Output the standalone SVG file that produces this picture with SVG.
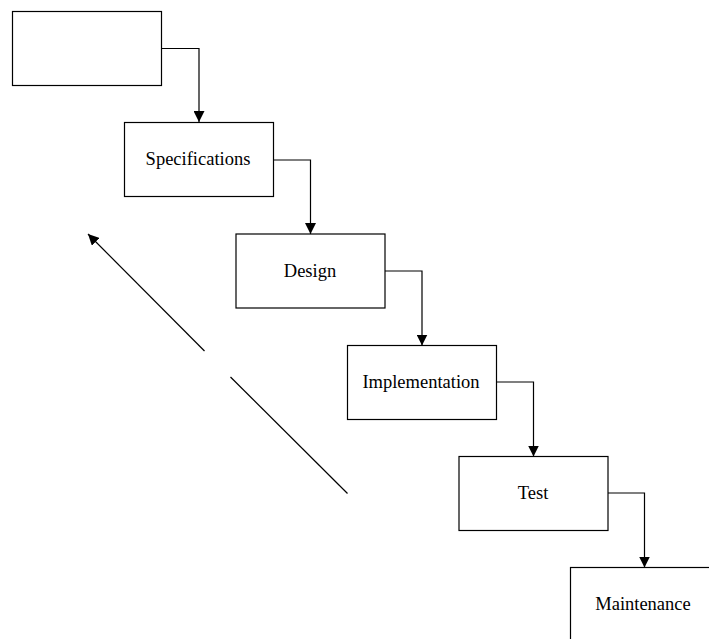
<svg xmlns="http://www.w3.org/2000/svg" width="709" height="639" viewBox="0 0 709 639">
<style>
.box{fill:#fff;stroke:#000;stroke-width:1.2}
.lbl{font-family:"Liberation Serif","Times New Roman",serif;font-size:18.5px;fill:#000;text-anchor:middle}
.con{fill:none;stroke:#000;stroke-width:1.2}
</style>
<defs>
<marker id="ah" viewBox="0 0 11 11" refX="11" refY="5.5" markerWidth="11" markerHeight="11" markerUnits="userSpaceOnUse" orient="auto">
<path d="M0,0 L11,5.5 L0,11 Z" fill="#000"/>
</marker>
</defs>
<rect width="709" height="639" fill="#fff"/>
<g id="n1"><rect class="box" x="12.5" y="11.5" width="149" height="74"/></g>
<g id="n2"><rect class="box" x="124.5" y="122.5" width="149" height="74"/><text class="lbl" x="198" y="165">Specifications</text></g>
<g id="n3"><rect class="box" x="236" y="234" width="149" height="74"/><text class="lbl" x="310" y="277">Design</text></g>
<g id="n4"><rect class="box" x="347.5" y="345.5" width="149" height="74"/><text class="lbl" x="421" y="388">Implementation</text></g>
<g id="n5"><rect class="box" x="459" y="456.5" width="149" height="74"/><text class="lbl" x="533" y="499">Test</text></g>
<g id="n6"><rect class="box" x="570.5" y="567.5" width="149" height="80"/><text class="lbl" x="643" y="610">Maintenance</text></g>
<g id="connectors">
<path class="con" d="M161.5,48.5 H199 V122" marker-end="url(#ah)"/>
<path class="con" d="M273.5,160 H310.5 V234" marker-end="url(#ah)"/>
<path class="con" d="M385,271 H422 V345.5" marker-end="url(#ah)"/>
<path class="con" d="M496.5,382 H533.5 V456.5" marker-end="url(#ah)"/>
<path class="con" d="M608,493 H644.5 V567.5" marker-end="url(#ah)"/>
<path class="con" d="M204.5,351 L88,234" marker-end="url(#ah)"/>
<path class="con" d="M230.5,377 L347.5,493.5"/>
</g>
</svg>
